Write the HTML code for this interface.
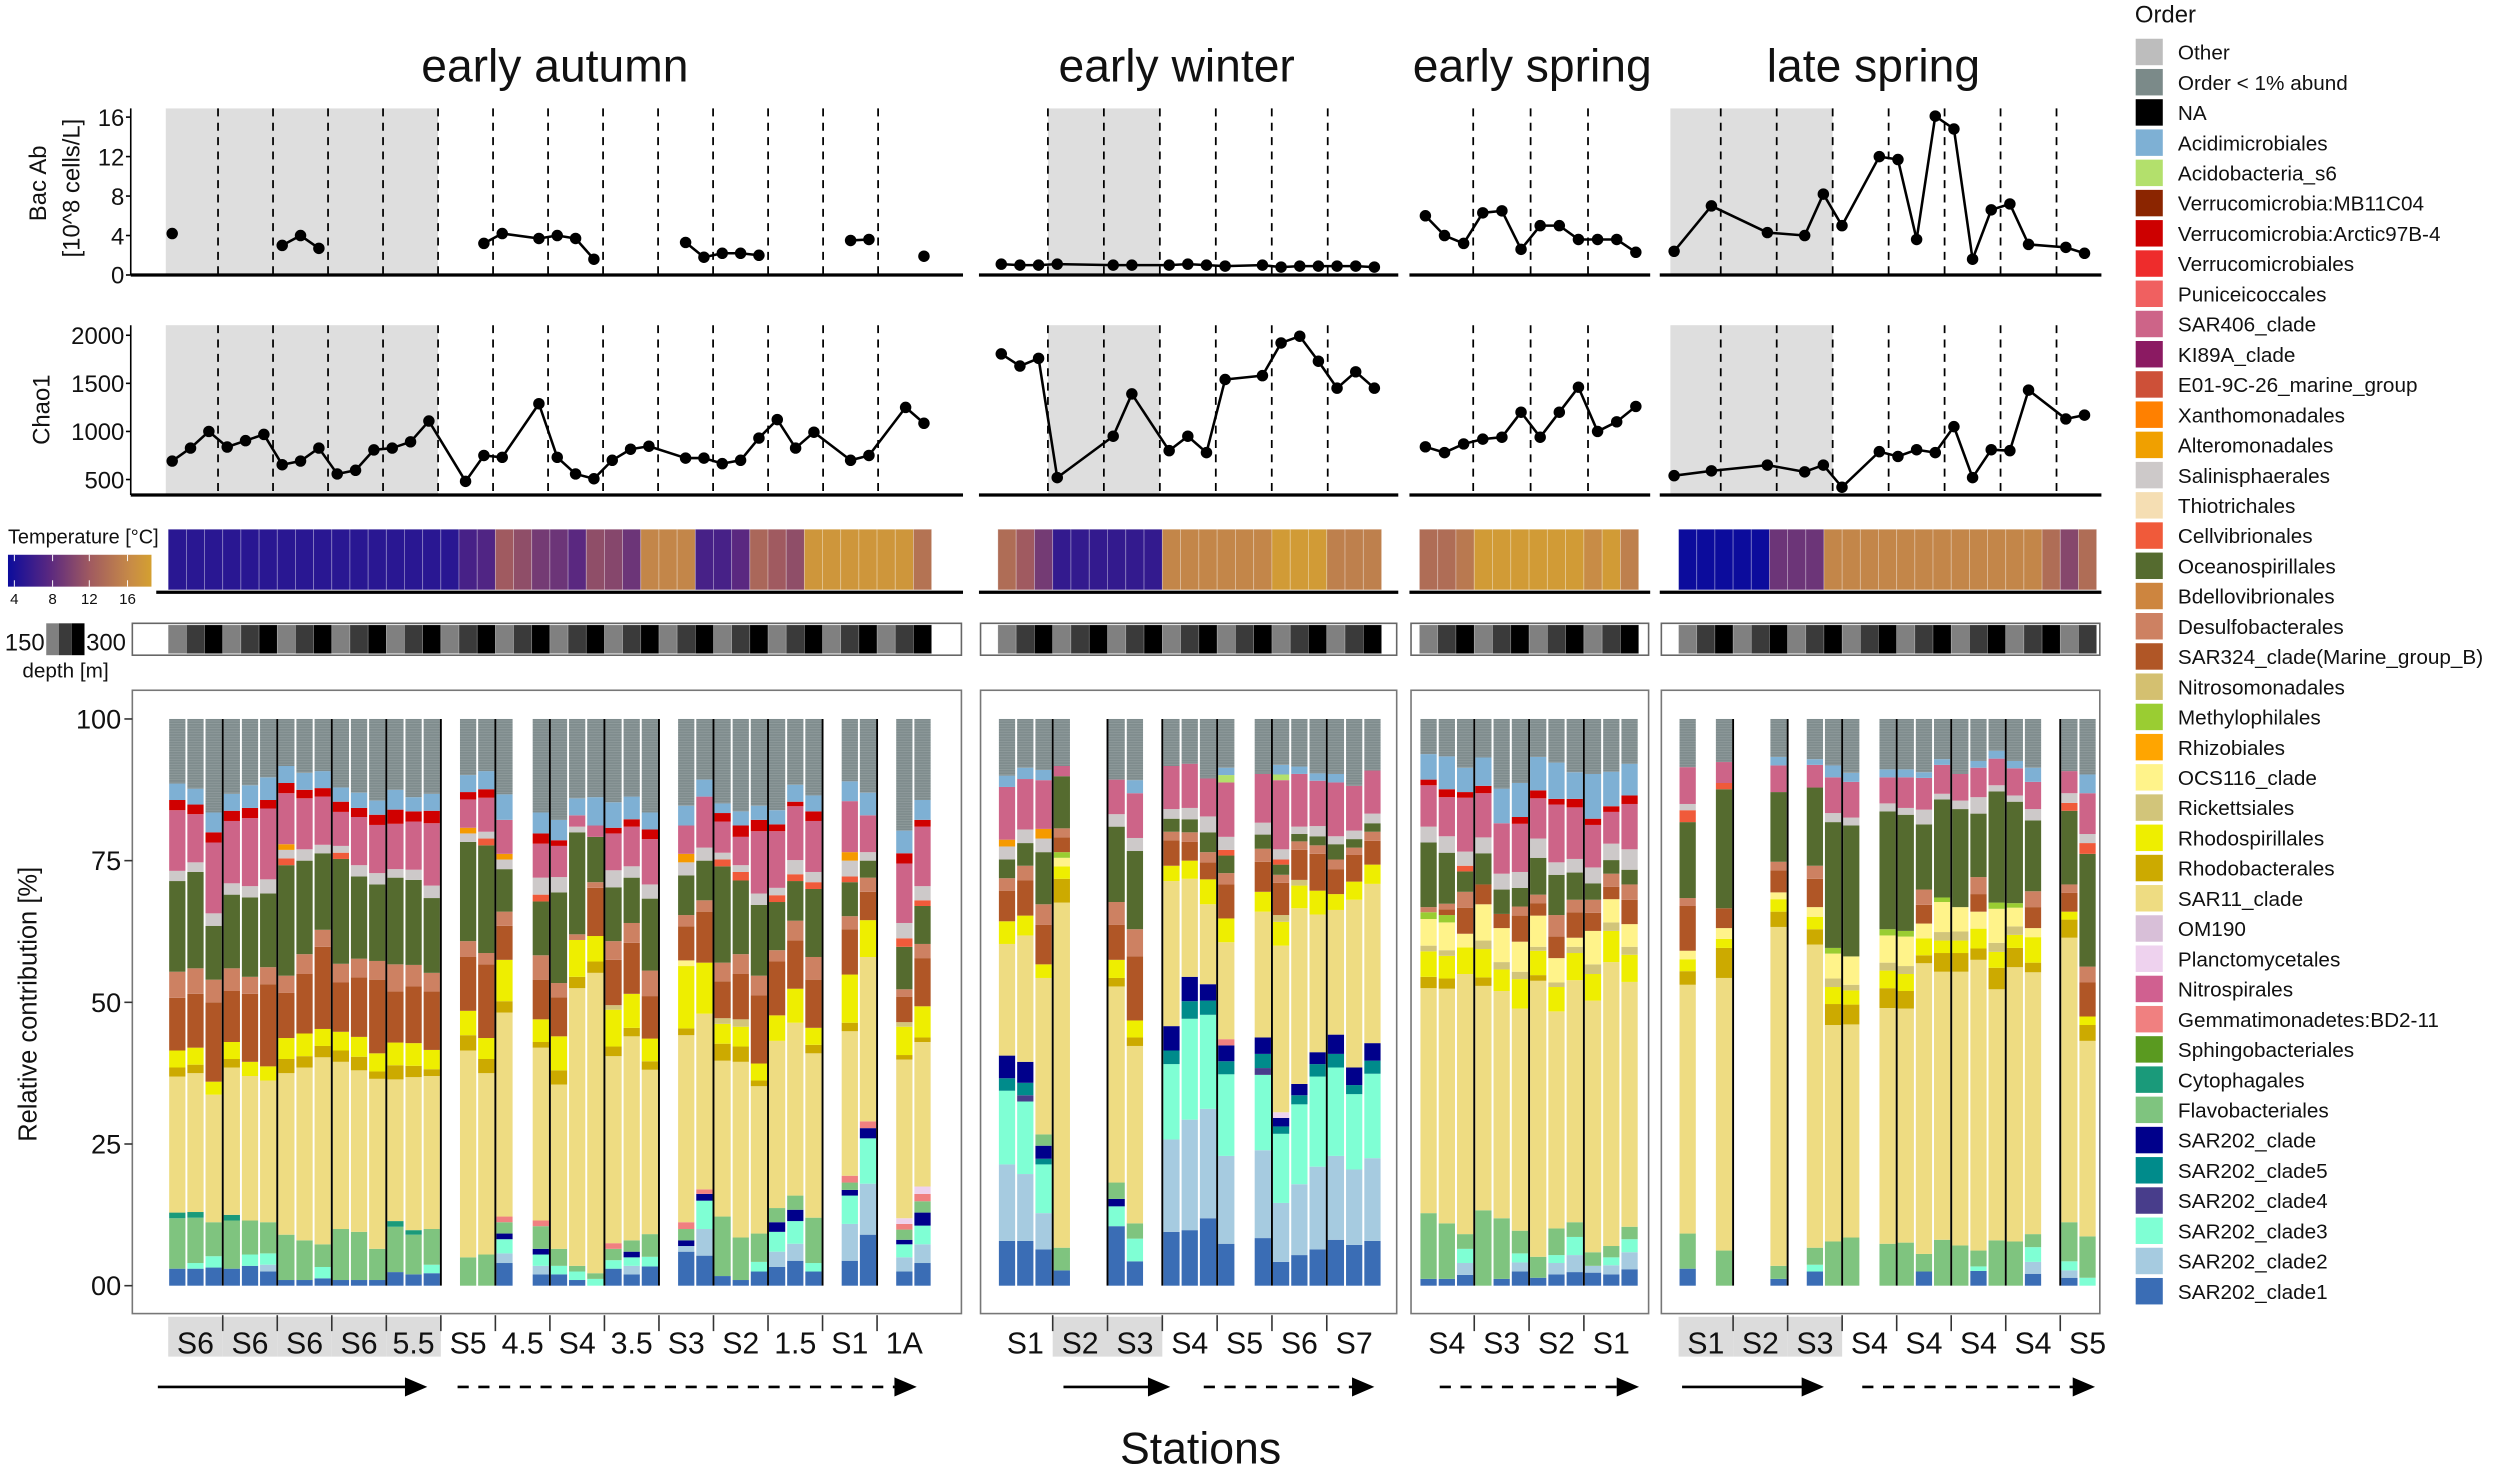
<!DOCTYPE html>
<html><head><meta charset="utf-8"><title>Bacterial community chart</title>
<style>
html,body{margin:0;padding:0;background:#fff;}
svg{display:block;font-family:"Liberation Sans",sans-serif;}
</style></head>
<body>
<svg id="fig" xmlns="http://www.w3.org/2000/svg" width="2500" height="1473" viewBox="0 0 1568 924" preserveAspectRatio="none">
<defs>
<pattern id="grayTex" width="4" height="1.6" patternUnits="userSpaceOnUse">
<rect width="4" height="1.6" fill="#7f8c8d"/><rect y="0.9" width="4" height="0.35" fill="#98a3a4"/>
</pattern>
<linearGradient id="tempGrad" x1="0" x2="1" y1="0" y2="0">
<stop offset="0" stop-color="#0c0c9c"/><stop offset="0.29" stop-color="#5a2880"/><stop offset="0.57" stop-color="#a05a60"/><stop offset="0.86" stop-color="#c88c46"/><stop offset="1" stop-color="#d4a030"/>
</linearGradient>
</defs>
<g id="root"></g>
</svg>
<script>
// ---------------- DATA ----------------
const autumnSlots=[0,1,2,3,4,5,6,7,8,9,10,11,12,13,14,16,17,18,20,21,22,23,24,25,26,28,29,30,31,32,33,34,35,37,38,40,41];
const autumnBac=[4.2,null,null,null,null,null,3.0,4.0,2.7,null,null,null,null,null,null,null,3.2,4.2,3.7,4.0,3.7,1.6,null,null,null,3.3,1.8,2.2,2.2,2.0,null,null,null,3.5,3.6,null,1.9];
const autumnChao=[692,827,1000,838,904,969,654,692,827,558,596,808,827,892,1108,481,750,731,1288,731,558,508,700,815,846,723,723,665,700,931,1123,827,992,700,750,1250,1085];
const autumnStations=['S6','S6','S6','S6','5.5','S5','4.5','S4','3.5','S3','S2','1.5','S1','1A'];
const autumnTemp=[5.5,5.5,5.5,5.5,5.5,5.5,5.5,5.5,5.5,5.5,5.5,5.5,5.5,5.5,5.5,5.5,7,7.5,12,11,9.5,9,8,11,10.5,9,15.5,15.5,15.5,7,7,8,13,12,11,17,17,17,17,17,17,14];
const autumnDepth=[150,225,300,150,225,300,150,225,300,150,225,300,150,225,300,150,225,300,150,225,300,150,225,300,150,225,300,150,225,300,150,225,300,150,225,300,150,225,300,150,225,300];

const winterSlots=[0,1,2,3,6,7,9,10,11,12,14,15,16,17,18,19,20];
const winterBac=[1.1,1.0,1.0,1.1,1.0,1.0,1.0,1.1,1.0,0.9,1.0,0.8,0.9,0.9,0.9,0.9,0.8];
const winterChao=[1806,1680,1760,520,950,1390,800,950,780,1540,1580,1920,1990,1730,1450,1620,1450];
const winterStations=['S1','S2','S3','S4','S5','S6','S7'];
const winterTemp=[13.5,12,9.5,6,6,6,6,6,6,15.5,15.5,15.5,15.5,15.5,15.5,17.5,17.5,17.5,15,15,15];
const winterDepth=[150,225,300,150,225,300,150,225,300,150,225,300,150,225,300,150,225,300,150,225,300];

const springSlots=[0,1,2,3,4,5,6,7,8,9,10,11];
const springBac=[6.0,4.0,3.2,6.3,6.5,2.6,5.0,5.0,3.6,3.6,3.6,2.3];
const springChao=[840,780,870,920,940,1200,940,1200,1460,1000,1100,1260];
const springStations=['S4','S3','S2','S1'];
const springTemp=[13.5,13.5,14.5,17.5,17.5,17.5,17.5,17.5,17.5,16,17.5,15];
const springDepth=[150,225,300,150,225,300,150,225,300,150,225,300];

const lateSlots=[0,2,5,7,8,9,11,12,13,14,15,16,17,18,19,21,22];
const lateBac=[2.4,7.0,4.3,4.0,8.2,5.0,12.0,11.7,3.6,16.1,14.8,1.6,6.6,7.2,3.1,2.8,2.2];
const lateChao=[540,590,650,580,650,420,790,740,810,780,1050,520,810,800,1430,1130,1170];
const lateStations=['S1','S2','S3','S4','S4','S4','S4','S5'];
const lateTemp=[4,4,4,4,4,9,9,9,15.5,15.5,15.5,15.5,15.5,15.5,15.5,15.5,15.5,15.5,15.5,15.5,13.5,10.5,13.5];
const lateDepth=[150,225,300,150,225,300,150,225,300,150,225,300,150,225,300,150,225,300,150,225,300,150,225];

// bar series (83 bars: autumn 37 | winter 17 | spring 12 | late 17)
const sar202c1=[3,3,3.2,3,3.5,2.5,1,1,1.3,1,1,1,2.4,2,2.2, 0,0,4, 2,2,1,0,3,2,3.4, 6,5.3,1.7,1,2.5,3.3,4.4,2.5, 4.4,9, 2.5,4,
 7.9,7.9,6.4,2.7,10.5,4.3,9.5,9.8,11.9,7.4,8.4,4.2,5.4,6.4,8.1,7.2,7.9,
 1.2,1.2,1.9,0,1.2,2.5,1.4,2,2.4,2.3,2,2.9,
 3,0,1.2,2.5,0,0,0,0,2.5,0,0,2.6,0,0,2.1,1.4,0];
const sar202c2=[0,0,0,0,0,1.2,0,0,0,0,0,0,0,0,0, 0,0,1.7, 1.5,0,0,0,0,1.5,0, 1,4.7,0,0,0,2.7,3,0, 6.5,9, 2.5,3.3,
 13.5,11.8,6.4,0,0,0,16.3,19.5,19.3,15.5,15.5,10.4,12.5,14.6,14.8,13.3,14.6,
 0,0,2.1,0,0,1.6,0,2,3,1.2,1.6,3,
 0,0,0,0,0,0,0,0,0,0,0,0,0,0,2.1,1.3,0];
const sar202c3=[0,1,2,0,2,2,0,0,2,0,0,0,0,0,1.5, 0,0,2.5, 2,1.5,1.5,1.2,1.5,1.5,1.7, 0,5,0,0,1.7,3.5,4,1.5, 5,8, 2.3,3.3,
 13,12.8,8.6,0,3.5,4,13.3,17.8,16.6,14.4,13.3,12.2,14.1,15.9,15.6,13.3,14.9,
 0,0,2.5,0,0,1.6,0,1.4,3.2,0,1.4,2.3,
 0,0,0,1.2,0,0,0,0,0,0,0,0.8,0,0,2.6,1.6,1.4];
const sar202c4=[0,0,0,0,0,0,0,0,0,0,0,0,0,0,0, 0,0,0, 0,0,0,0,0,0,0, 0,0,0,0,0,0,0,0, 0,0, 0,0,
 0,1.1,0,0,0,0,0,0,0,0,1.2,0,0,0,0,0,0,
 0,0,0,0,0,0,0,0,0,0,0,0,
 0,0,0,0,0,0,0,0,0,0,0,0,0,0,0,0,0];
const sar202c5=[0,0,0,0,0,0,0,0,0,0,0,0,0,0,0, 0,0,0, 0,0,0,0,0,0,0, 0,0,0,0,0,0,0,0, 0,0, 0,0,
 2.2,2.2,1,0,0,0,2.4,3.1,2.5,2.3,2.5,1.3,1.6,2.2,2.4,1.6,2.3,
 0,0,0,0,0,0,0,0,0,0,0,0,
 0,0,0,0,0,0,0,0,0,0,0,0,0,0,0,0,0];
const sar202clade=[0,0,0,0,0,0,0,0,0,0,0,0,0,0,0, 0,0,1, 1,0,0,0,0,1,0, 1,1.2,0,0,0,1.7,2,0, 1,1.8, 0.8,2.3,
 4,3.7,2.3,0,1.3,0,4.3,4.3,2.9,2.8,2.9,1.5,2,2.1,3.4,3.1,3.1,
 0,0,0,0,0,0,0,0,0,0,0,0,
 0,0,0,0,0,0,0,0,0,0,0,0,0,0,0,0,0];
const flavo=[8.9,8,6,8.5,6,5.5,8,7,4,9,8.5,5.5,8,7,6.3, 5,5.5,2, 4,3,1,1,2,2,4, 2,0,10.5,7.5,5,2.5,2.5,8, 1.3,0, 1.8,2,
 0,0,2,4,2.9,2.7,0,0,0,0,0,0,0,0,0,0,0,
 11.6,9.8,2.6,13.3,10.7,4,3.7,4.7,2.6,2.4,2,2.2,
 6.2,6.2,2.3,3,7.8,8.5,7.4,7.6,3.1,8.1,7.1,2.8,8,7.8,2.3,6.9,7.3];
const cyto=[1,1,0,1,0,0,0,0,0,0,0,0,1,0.8,0, 0,0,0, 0,0,0,0,0,0,0, 0,0,0,0,0,0,0,0, 0,0, 0,0,
 0,0,0,0,0,0,0,0,0,0,0,0,0,0,0,0,0,
 0,0,0,0,0,0,0,0,0,0,0,0,
 0,0,0,0,0,0,0,0,0,0,0,0,0,0,0,0,0];
const gemm=[0,0,0,0,0,0,0,0,0,0,0,0,0,0,0, 0,0,1, 1,0,0,0,1,0,0, 1.2,0.8,0,0,0,0,0,0, 1.2,1.2, 1,1.3,
 0,0,0,0,0,0,0,0,0,1.1,0,0,0,0,0,0,0,
 0,0,0,0,0,0,0,0,0,0,0,0,
 0,0,0,0,0,0,0,0,0,0,0,0,0,0,0,0,0];
const planct=[0,0,0,0,0,0,0,0,0,0,0,0,0,0,0, 0,0,0, 0,0,0,0,0,0,0, 0,0,0,0,0,0,0,0, 0,0, 1,1.3,
 0,0,0,0,0,0,0,0,0,0,0,1,0,0,0,0,0,
 0,0,0,0,0,0,0,0,0,0,0,0,
 0,0,0,0,0,0,0,0,0,0,0,0,0,0,0,0,0];
const sar11=[24,24.5,22.5,26,25.5,25,28.5,30.5,33,29.5,28.5,30,25,27,27, 36.5,32,36, 30.5,29,49,53,33,36,29, 33,31,27.5,31,26,29.5,30.5,29, 25.5,29, 28,25.5,
 19.7,22.3,27.6,60.9,34.6,31.3,25.6,17.3,14.1,17.1,22.2,29.4,31,24.3,22,29.6,28.1,
 39.7,41.4,45.9,39.6,40.1,39.2,48.7,38.3,42.7,44.4,50.1,43.2,
 43.9,48.1,59.8,53.5,38.2,37.6,41.6,41.3,51.3,47.3,48.3,51.3,44.3,48.4,46.2,50.2,34.5];
const rhodobact=[1.6,1.5,0,1.5,0,0,2.5,2,2,2,2.4,1.3,2.5,2,1.2, 2.7,2.5,2, 1,2.5,2,2,1.7,1.5,1.5, 1.2,0,3,2.7,1,0,0,1.5, 1.5,0, 0.8,0.8,
 0,0,0,4.2,1.5,1.5,0,0,0,0,0,0,0,0,0,0,0,
 2,1.8,0,1.5,0,0,1,0,0,0,0,0,
 2.4,5.3,2.7,2.7,3.7,3.5,3.5,3.1,1.4,3.3,3.3,2,3.8,3.4,1.7,3.2,2.8];
const rhodospir=[3,3,2.3,3,2.5,2.5,3.7,4,3,3.3,3.5,3.2,4,4,3.4, 4.3,3.7,7.3, 4,6,6.5,4.5,6.5,6,4, 11,9,3.5,3.5,3,4.5,6,3, 8.5,6.5, 5,5.5,
 4,3.5,2.4,2.2,3.2,3,2.7,3.2,4.4,4.2,3.5,4.2,4,4.2,2.8,3.2,3.4,
 4.5,4,4.7,5,3.8,5.2,4.3,4.3,4.8,4.7,5.5,4.8,
 2.1,1.6,2.2,2.2,3,2.5,3.1,3,3,2.2,2.2,3.5,2.8,2.3,4.5,1.4,1.5];
const ricketts=[0,0,0,0,0,0,0,0,0,0,0,0,0,0,0, 0,0,0, 0,0,0,0,0.8,0,0, 0,0,1,1.3,0,0,0,0, 0,0, 0.8,0,
 0,0,0,0,0,0,0,0,0,0,0,1.2,1,0,0,0,0,
 1,1,0,1.5,1.3,1.3,0.7,0.8,1.1,1.7,1.5,1.4,
 0,0,0,0,1.5,1,1.4,1.4,0,1.5,1.6,0,1.6,1.5,0,0,0];
const ocs116=[0,0,0,0,0,0,0,0,0,0,0,0,0,0,0, 0,0,0, 0,0,0,0,0,0,0, 1,0,0,0,0,0,0,0, 0,0, 0,0,
 0,0,0,1.5,0,0,0,0,0,0,0,0,0,0,0,0,0,
 4.7,4.9,2.4,6.4,6,5.3,5.5,4.3,1.6,5.9,4.1,4,
 1.5,1.9,1.2,1.7,4.4,5,4.8,5.2,2.6,5.3,4.3,3,6,3.3,1.6,0,0];
const methylo=[0,0,0,0,0,0,0,0,0,0,0,0,0,0,0, 0,0,0, 0,0,0,0,0,0,0, 0,0,0,0,0,0,0,0, 0,0, 0,0,
 0,0,0,1,0,0,0,0,0,0,0,0,0,0,0,0,0,
 1.2,1.3,0,0,0,0,0,0,0,0,0,0,
 0,0,0,0,1,0,1.1,1,0,0.8,0,0,1.1,0.8,0,0,0];
const sar324=[9.3,9.5,14,9,12,14.5,8,10.5,14.5,8.7,10.5,13,9,10,10.3, 9.5,13,6, 7,6.9,0,8.5,8,9,7.5, 6,9,6.5,8,12,9.5,8.5,8.5, 8,5, 4.5,8.5,
 5.4,6.2,7,2.6,6.2,11.3,4.5,3.3,3,6,5.3,5.7,5.3,6.5,4.4,4.7,4.2,
 0,1,4.6,3.5,2.5,4.6,2.2,3.8,4.5,3.2,2.2,4.3,
 7.9,3.5,3.9,5,0,0,0,0,3.3,0,0,3.1,0,0,3.7,3.3,6];
const desulfo=[4.6,4.5,4,4,3,3,3,3.5,3,3.3,3.3,3.3,4.8,3.8,3.3, 2.8,2,2.5, 4.3,2.5,1,1,3.3,3.5,4.5, 2,2,3.3,3.5,3.5,2,3.5,4, 2.3,2.5, 1.3,2.5,
 2.2,2.6,3.6,1.6,4,4.8,1.5,1.7,1.8,2,2.3,1.4,1.5,1.5,1.7,1.3,1.6,
 0.9,1,2.8,0,0,1.6,1.5,3.8,2.2,2.3,2.3,2.7,
 1.4,0,1.5,2.3,0,0,0,0,2.7,0,0,3,0,0,2.8,1.5,2.8];
const oceano=[16,17,9.5,13,14,13,19.5,16.5,13.5,18.5,14.5,13.5,15.3,15,13.2, 17.5,19,7.5, 9.5,16,18,8,9.5,8,12.7, 7,7,17,13,12.5,8.5,7,12, 6,3, 7.5,6.7,
 3.3,4,9.2,9.2,13.3,13.8,2.3,2.3,3.5,3.1,2.5,1.8,1.3,1.6,2.7,1.5,1.5,
 11.4,9,3.6,5.5,4.3,3.3,6.5,7.1,4.8,2.9,2.4,2.6,
 13.4,21,12.3,13.8,22.2,23.1,20.8,20.5,11.5,17.3,17.3,11.2,19.6,17.9,12.5,13,19.9];
const cellvib=[0,0,0,0,0,0,1.2,0,0,1.1,0,0,0,0,0, 0,1.2,0, 1.2,0,0,0,0,0,0, 0,0,1.2,1.5,0,1.2,1.2,1.2, 1,0, 1.5,1,
 0,0,0,0,0,0,0,0,0,1,0,0.9,0,0,0,0,0,
 0,0,1,0,0,0,0,0,0,0,0,0,
 2.1,1.1,0,0,0,0,0,0,0,0,0,0,0,0,0,1.4,1.9];
const salini=[1.8,1.7,2.2,2,2,2.5,1.5,2,1.5,1.2,2,2,1.5,1.8,2.2, 1.5,1.2,1.7, 3,2.7,1,0,3,2,2.5, 2.3,2.3,1.2,1.2,2,1.3,2.5,1.8, 2.8,1.5, 2.7,2.5,
 2.3,2.4,2.4,0,2.2,2.3,1.7,2,2.8,2.3,2.1,1.8,1.3,1.8,1.4,1.5,1.7,
 2.8,2.9,2.5,2.8,2.8,2.8,3.4,2.2,2.4,2.8,2.9,3.6,
 1.1,0,0,0,1.6,1.4,1.4,1.2,2.6,1,1.5,2.9,1.1,1.1,2,1.7,1.6];
const altero=[0,0,0,0,0,0,1,0,0,0,0,0,0,0,0, 1,0,1, 0,0,0,0,0,0,0, 1.5,0,0,0,0,0,0,0, 1.5,0, 0,0,
 1.2,0,1.7,0,0,0,0,0,0,0,0,0,0,0,0,0,0,
 0,0,0,0,0,0,0,0,0,0,0,0,
 0,0,0,0,0,0,0,0,0,0,0,0,0,0,0,0,0];
const sar406=[10.7,8.5,12.5,11,12,12.5,9,9,8.5,6,8.5,8.5,8,8.5,11, 5,6,6, 6,5.5,2,2,6.5,7,8, 5,9,5.5,5,11,10,9.5,9, 9,6.5, 10.5,10.5,
 9.3,8.9,8.6,1.8,6.1,7.9,7.6,7.8,6.7,9.6,8.6,12.2,9.3,8,9.5,7.9,7.6,
 7.3,6.9,9.5,7.8,8.9,8.5,7.1,10.2,9.1,7.5,5.6,8,
 6.5,3.7,4.7,4,6.3,6.3,4.6,5.4,5.6,5.1,4.7,5.2,4.7,4.8,4.8,3.9,7.2];
const acidob=[0,0,0,0,0,0,0,0,0,0,0,0,0,0,0, 0,0,0, 0,0,0,0,0,0,0, 0,0,0,0,0,0,0,0, 0,0, 0,0,
 0,0,0,0,0,0,0,0,0,1.3,0,1,0,0,0,0,0,
 0,0,0,0,0,0,0,0,0,0,0,0,
 0,0,0,0,0,0,0,0,0,0,0,0,0,0,0,0,0];
const arctic97=[1.8,1.7,1.8,1.8,1.8,1.5,1.8,1.5,1.5,1.8,1.6,1.8,2.5,1.8,2.2, 1.3,1.5,0, 1.8,1,0,0,1,1.3,1.7, 0,0,1.5,2,2,1.2,0.8,1.7, 0,0, 1.8,1.2,
 0,0,0,0,0,0,0,0,0,0,0,0,0,0,0,0,0,
 1,1.4,1,1.3,0,1.2,1.4,1,1.5,1.1,1,1.5,
 0,0,0,0,0,0,0,0,0,0,0,0,0,0,0,0,0];
const acidimicro=[2.9,2.8,3.5,3,4,4,3,3,3,2.5,2.7,2.5,3.5,2.5,3, 3,3.2,4.5, 3.7,3.6,3,5,4.5,4,3, 3.5,3,1.7,2.5,2.5,2.5,3,2.8, 3.5,4, 4,3.5,
 2,2,1.8,0,0,2.3,0,0,0,1.3,0,1.7,1.3,1.3,1.5,0,0,
 4.5,5.8,4.3,5,6.1,6,5.9,6.4,4.7,7.9,6.1,5.6,
 0,0,1.5,1,2.1,1.6,1.4,1.4,1,1,0,1.2,1.4,1.3,2.5,0,3.3];

const legendLabels=['Other','Order < 1% abund','NA','Acidimicrobiales','Acidobacteria_s6','Verrucomicrobia:MB11C04','Verrucomicrobia:Arctic97B-4','Verrucomicrobiales','Puniceicoccales','SAR406_clade','KI89A_clade','E01-9C-26_marine_group','Xanthomonadales','Alteromonadales','Salinisphaerales','Thiotrichales','Cellvibrionales','Oceanospirillales','Bdellovibrionales','Desulfobacterales','SAR324_clade(Marine_group_B)','Nitrosomonadales','Methylophilales','Rhizobiales','OCS116_clade','Rickettsiales','Rhodospirillales','Rhodobacterales','SAR11_clade','OM190','Planctomycetales','Nitrospirales','Gemmatimonadetes:BD2-11','Sphingobacteriales','Cytophagales','Flavobacteriales','SAR202_clade','SAR202_clade5','SAR202_clade4','SAR202_clade3','SAR202_clade2','SAR202_clade1'];
const legendColors=['#bdbdbd','#7b8a89','#000000','#7eb0d4','#b3e06c','#8b2500','#cd0000','#ee2c2c','#f06060','#cd6488','#8b1a62','#cd5038','#ff8000','#f0a000','#cdc9c9','#f5deb3','#f05a3a','#556b2f','#cd853f','#cd8162','#b05626','#d4c070','#9acd32','#ffa500','#fff38a','#d2c57a','#eeee00','#ccaa00','#eedc82','#d8bfd8','#eed2ee','#d06090','#f08080','#5a9a20','#1a9a7a','#7fc47f','#00008b','#008b8b','#483d8b','#7fffd4','#a6cbe0','#3a6db5'];

// ---------------- LAYOUT ----------------
const NS='http://www.w3.org/2000/svg';
const root=document.getElementById('root');
function mk(tag,attrs,parent){const e=document.createElementNS(NS,tag);for(const k in attrs)e.setAttribute(k,attrs[k]);(parent||root).appendChild(e);return e;}
function txt(str,attrs,parent){const e=mk('text',attrs,parent);e.textContent=str;return e;}

const series=[
 ['sar202-clade1',sar202c1,'#3a6db5'],['sar202-clade2',sar202c2,'#a6cbe0'],['sar202-clade3',sar202c3,'#7fffd4'],
 ['sar202-clade4',sar202c4,'#483d8b'],['sar202-clade5',sar202c5,'#008b8b'],['sar202-clade',sar202clade,'#00008b'],
 ['flavobacteriales',flavo,'#7fc47f'],['cytophagales',cyto,'#1a9a7a'],['gemmatimonadetes',gemm,'#f08080'],
 ['planctomycetales',planct,'#eed2ee'],['sar11-clade',sar11,'#eedc82'],['rhodobacterales',rhodobact,'#ccaa00'],
 ['rhodospirillales',rhodospir,'#eeee00'],['rickettsiales',ricketts,'#d2c57a'],['ocs116-clade',ocs116,'#fff38a'],
 ['methylophilales',methylo,'#9acd32'],['sar324-clade',sar324,'#b05626'],['desulfobacterales',desulfo,'#cd8162'],
 ['oceanospirillales',oceano,'#556b2f'],['cellvibrionales',cellvib,'#f05a3a'],['salinisphaerales',salini,'#cdc9c9'],
 ['alteromonadales',altero,'#f59a00'],['sar406-clade',sar406,'#cd6488'],['acidobacteria-s6',acidob,'#b3e06c'],
 ['arctic97b-4',arctic97,'#d00000'],['acidimicrobiales',acidimicro,'#7eb0d4']
];

const panels=[
 {key:'autumn',title:'early autumn',titleX:348,slots:autumnSlots,bac:autumnBac,chao:autumnChao,stations:autumnStations,temp:autumnTemp,depth:autumnDepth,
  top0:108,topStep:11.5,bar0:111.2,barStep:11.4,axL:82,axR:604,yAxis:true,grayTop:[-0.35,14.5],grayLab:[0,1,2,3,4],
  arrows:[[99,268,false],[287,575,true]]},
 {key:'winter',title:'early winter',titleX:738,slots:winterSlots,bac:winterBac,chao:winterChao,stations:winterStations,temp:winterTemp,depth:winterDepth,
  top0:628,topStep:11.7,bar0:631.6,barStep:11.46,axL:614,axR:877,yAxis:false,grayTop:[2.5,8.5],grayLab:[1,2],
  arrows:[[667,734,false],[755,862,true]]},
 {key:'spring',title:'early spring',titleX:961,slots:springSlots,bac:springBac,chao:springChao,stations:springStations,temp:springTemp,depth:springDepth,
  top0:894,topStep:12,bar0:896,barStep:11.46,axL:884,axR:1035,yAxis:false,grayTop:null,grayLab:[],
  arrows:[[903,1028,true]]},
 {key:'late',title:'late spring',titleX:1175,slots:lateSlots,bac:lateBac,chao:lateChao,stations:lateStations,temp:lateTemp,depth:lateDepth,
  top0:1050,topStep:11.7,bar0:1058.5,barStep:11.4,axL:1041,axR:1318,yAxis:false,grayTop:[-0.2,8.5],grayLab:[0,1,2],
  arrows:[[1055,1144,false],[1168,1314,true]]}
];

const yBac=v=>172.5-v*6.19;
const yChao=v=>300.8-(v-500)*0.06033;
const yPct=v=>806.5-v*3.555;
const BAC_TOP=68, BAC_BOT=172.5, CH_TOP=204, CH_BOT=310.5;

const tStops=[[4,[12,12,156]],[8,[90,40,128]],[12,[160,90,96]],[16,[200,140,70]],[18,[212,160,48]]];
function tempColor(t){
 for(let i=0;i<tStops.length-1;i++){const a=tStops[i],b=tStops[i+1];
  if(t<=b[0]||i===tStops.length-2){const f=Math.max(0,Math.min(1,(t-a[0])/(b[0]-a[0])));
   const c=a[1].map((v,j)=>Math.round(v+(b[1][j]-v)*f));return 'rgb('+c.join(',')+')';}}
}
const depthShade={150:'#808080',225:'#3a3a3a',300:'#000000'};

let barIndex=0;
panels.forEach(p=>{
 const g=mk('g',{});
 
 
 const topX=s=>p.top0+s*p.topStep;
 const barX=s=>p.bar0+s*p.barStep;
 const nSt=p.stations.length;

 const t=txt(p.title,{x:p.titleX,y:51,'font-size':29,'text-anchor':'middle',fill:'#111'},g);
 
 

 if(p.grayTop){[[BAC_TOP,BAC_BOT],[CH_TOP,CH_BOT]].forEach((r,i)=>{
  const x1=topX(p.grayTop[0]),x2=topX(p.grayTop[1]);
  const sh=mk('rect',{x:x1,y:r[0],width:x2-x1,height:r[1]-r[0],fill:'#dedede'},g);
  
  
 });}
 for(let k=1;k<nSt;k++){const bx=topX(3*k-0.5);
  [[BAC_TOP,BAC_BOT],[CH_TOP,CH_BOT]].forEach(r=>{
   const l=mk('line',{x1:bx,x2:bx,y1:r[0],y2:r[1],stroke:'#000','stroke-width':1.1,'stroke-dasharray':'5,4'},g);
   
   
  });}
 [BAC_BOT,CH_BOT].forEach((yy,i)=>{
  const a=mk('line',{x1:p.axL,x2:p.axR,y1:yy,y2:yy,stroke:'#000','stroke-width':2},g);
  
  
 });
 if(p.yAxis){
  const ya=mk('line',{x1:p.axL,x2:p.axL,y1:BAC_TOP,y2:BAC_BOT,stroke:'#000','stroke-width':1},g);
  
  
  [0,4,8,12,16].forEach(v=>{
   mk('line',{x1:p.axL-3,x2:p.axL,y1:yBac(v),y2:yBac(v),stroke:'#000'},g);
   const tl=txt(String(v),{x:p.axL-4,y:yBac(v)+5.5,'font-size':15,'text-anchor':'end',fill:'#111'},g);
   
   
  });
  const ya2=mk('line',{x1:p.axL,x2:p.axL,y1:CH_TOP,y2:CH_BOT,stroke:'#000','stroke-width':1},g);
  
  
  [500,1000,1500,2000].forEach(v=>{
   mk('line',{x1:p.axL-3,x2:p.axL,y1:yChao(v),y2:yChao(v),stroke:'#000'},g);
   const tl=txt(String(v),{x:p.axL-4,y:yChao(v)+5.5,'font-size':15,'text-anchor':'end',fill:'#111'},g);
   
   
  });
 }
 function drawSeries(vals,yf,name){
  for(let i=0;i<vals.length-1;i++){
   if(vals[i]!=null&&vals[i+1]!=null){
    const l=mk('line',{x1:topX(p.slots[i]),y1:yf(vals[i]),x2:topX(p.slots[i+1]),y2:yf(vals[i+1]),stroke:'#000','stroke-width':1.6},g);
    
    
   }}
  vals.forEach((v,i)=>{if(v==null)return;
   const c=mk('circle',{cx:topX(p.slots[i]),cy:yf(v),r:3.6,fill:'#000'},g);
   
   
  });
 }
 drawSeries(p.bac,yBac,'bac-abundance');
 drawSeries(p.chao,yChao,'chao1');

 p.temp.forEach((tv,s)=>{
  const r=mk('rect',{x:barX(s)-p.barStep/2,y:332,width:p.barStep,height:38,fill:tempColor(tv),stroke:'#ffffff','stroke-opacity':0.35,'stroke-width':0.5},g);
  
  
 });
 const tl=mk('line',{x1:(p.yAxis?98:p.axL),x2:p.axR,y1:371.5,y2:371.5,stroke:'#000','stroke-width':2},g);
 
 
 const db=mk('rect',{x:p.axL+1,y:391,width:p.axR-p.axL-2,height:20,fill:'#fff',stroke:'#666','stroke-width':1},g);
 
 
 p.depth.forEach((dv,s)=>{
  const r=mk('rect',{x:barX(s)-p.barStep/2,y:392,width:p.barStep,height:18,fill:depthShade[dv],stroke:'#fff','stroke-opacity':0.3,'stroke-width':0.4},g);
  
  
 });

 const fr=mk('rect',{x:p.axL+1,y:433,width:p.axR-p.axL-2,height:391,fill:'none',stroke:'#777','stroke-width':1},g);
 
 
 p.slots.forEach((s,i)=>{
  const bi=barIndex+i;
  const bx=barX(s)-5.1;
  let cum=0;
  series.forEach(([nm,arr,col])=>{
   const v=arr[bi];if(!v)return;
   const r=mk('rect',{x:bx,y:yPct(cum+v),width:10.2,height:yPct(cum)-yPct(cum+v),fill:col},g);
   
   
   cum+=v;
  });
  if(cum<100){
   const r=mk('rect',{x:bx,y:yPct(100),width:10.2,height:yPct(cum)-yPct(100),fill:'url(#grayTex)'},g);
   
   
  }
 });
 barIndex+=p.slots.length;
 for(let k=1;k<nSt;k++){const sx=barX(3*k)-p.barStep/2;
  const l=mk('line',{x1:sx,x2:sx,y1:yPct(100),y2:yPct(0),stroke:'#000','stroke-width':1.2},g);
  
  
 }
 p.grayLab.forEach(k=>{
  const r=mk('rect',{x:barX(3*k)-p.barStep/2,y:826,width:3*p.barStep,height:25,fill:'#dcdcdc'},g);
  
  
 });
 p.stations.forEach((st,k)=>{
  if(k>0){const sx=barX(3*k)-p.barStep/2;
   const l=mk('line',{x1:sx,x2:sx,y1:825,y2:835,stroke:'#333','stroke-width':1},g);
   
   }
  const lab=txt(st,{x:barX(3*k+1),y:849,'font-size':19,'text-anchor':'middle',fill:'#111'},g);
  
  
 });
 p.arrows.forEach(([x1,x2,dashed])=>{
  const l=mk('line',{x1:x1,x2:x2-10,y1:870,y2:870,stroke:'#000','stroke-width':1.6,'stroke-dasharray':dashed?'7,6':'none'},g);
  
  
  const h=mk('polygon',{points:(x2)+',870 '+(x2-14)+',864 '+(x2-14)+',876',fill:'#000'},g);
  
  
 });
});

[0,25,50,75,100].forEach(v=>{
 const lbl=v===0?'00':String(v);
 mk('line',{x1:78,x2:83,y1:yPct(v),y2:yPct(v),stroke:'#333'});
 const t=txt(lbl,{x:76,y:yPct(v)+6,'font-size':17,'text-anchor':'end',fill:'#111'});
 
 
});
let at=txt('Relative contribution [%]',{x:0,y:0,'font-size':16,'text-anchor':'middle',fill:'#111',transform:'translate(23,630) rotate(-90)'});


at=txt('Bac Ab',{x:0,y:0,'font-size':15,'text-anchor':'middle',fill:'#111',transform:'translate(29,115) rotate(-90)'});


at=txt('[10^8 cells/L]',{x:0,y:0,'font-size':15,'text-anchor':'middle',fill:'#111',transform:'translate(50,118) rotate(-90)'});


at=txt('Chao1',{x:0,y:0,'font-size':15,'text-anchor':'middle',fill:'#111',transform:'translate(31,257) rotate(-90)'});


at=txt('Stations',{x:753,y:918,'font-size':28,'text-anchor':'middle',fill:'#111'});



at=txt('Temperature [°C]',{x:5,y:341,'font-size':12.5,fill:'#111'});


const gb=mk('rect',{x:5,y:348,width:90,height:20,fill:'url(#tempGrad)'});


[['4',9],['8',33],['12',56],['16',80]].forEach(([s,x])=>{
 mk('line',{x1:x,x2:x,y1:348,y2:352,stroke:'#fff','stroke-width':0.6});
 mk('line',{x1:x,x2:x,y1:364,y2:368,stroke:'#fff','stroke-width':0.6});
 const t=txt(s,{x:x,y:379,'font-size':9.5,'text-anchor':'middle',fill:'#111'});
 
 
});
at=txt('150',{x:3,y:408,'font-size':15,fill:'#111'});


[['#808080',29],['#3a3a3a',37],['#000000',45]].forEach(([c,x])=>{
 const r=mk('rect',{x:x,y:391,width:8,height:20,fill:c});
 
 
});
at=txt('300',{x:54,y:408,'font-size':15,fill:'#111'});


at=txt('depth [m]',{x:14,y:425,'font-size':13,fill:'#111'});



at=txt('Order',{x:1339,y:14,'font-size':15,fill:'#111'});


legendLabels.forEach((lab,k)=>{
 const cy=32.6+k*18.96;
 const sw=mk('rect',{x:1339.5,y:cy-8.3,width:17,height:16.6,fill:legendColors[k]});
 
 
 const t=txt(lab,{x:1366,y:cy+4.8,'font-size':13,fill:'#111'});
 
 
});
</script>
</body></html>
